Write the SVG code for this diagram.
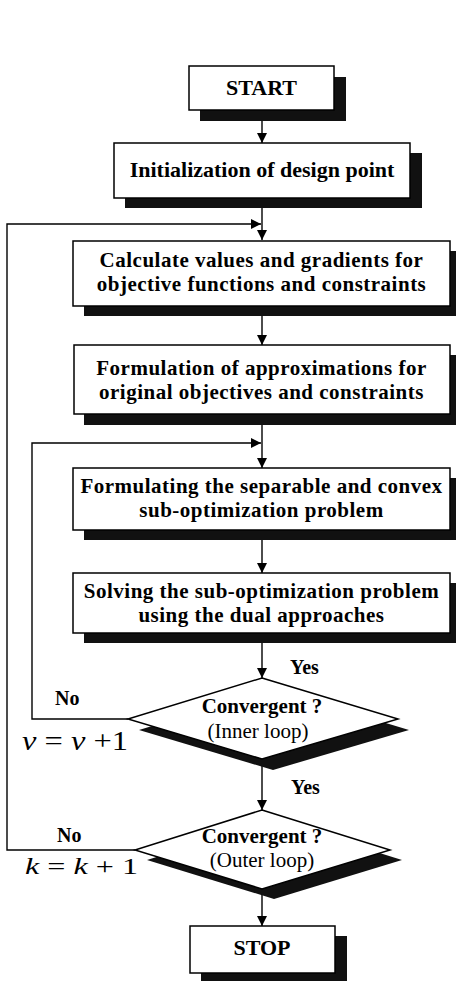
<svg xmlns="http://www.w3.org/2000/svg" width="456" height="981" viewBox="0 0 456 981">
<defs>
<style>
.box{fill:#fff;stroke:#000;stroke-width:1.5}
.sh{fill:#111}
.t{font-family:"Liberation Serif","Times New Roman",serif;font-weight:bold;font-size:22px;text-anchor:middle;fill:#000}
.t2{font-family:"Liberation Serif","Times New Roman",serif;font-weight:bold;font-size:21px;letter-spacing:0.5px;text-anchor:middle;fill:#000}
.r{font-family:"Liberation Serif","Times New Roman",serif;font-size:21px;text-anchor:middle;fill:#000}
.lb{font-family:"Liberation Serif","Times New Roman",serif;font-weight:bold;font-size:20px;fill:#000}
.m{font-family:"Liberation Serif","Times New Roman",serif;fill:#000}
.ln{fill:none;stroke:#000;stroke-width:1.4}
</style>
<marker id="ah" viewBox="0 0 10 10" refX="10" refY="5" markerWidth="10" markerHeight="10" markerUnits="userSpaceOnUse" orient="auto">
<path d="M0,0 L10,5 L0,10 Z" fill="#000"/>
</marker>
</defs>
<rect width="456" height="981" fill="#fff"/>

<g id="connectors">
<line class="ln" x1="262" y1="110" x2="262" y2="143" marker-end="url(#ah)"/>
<line class="ln" x1="262" y1="198" x2="262" y2="240" marker-end="url(#ah)"/>
<polyline class="ln" points="135,850 7,850 7,224 261,224" marker-end="url(#ah)"/>
<line class="ln" x1="262" y1="306" x2="262" y2="345" marker-end="url(#ah)"/>
<line class="ln" x1="262" y1="414" x2="262" y2="468" marker-end="url(#ah)"/>
<polyline class="ln" points="128,719 32,719 32,443 261,443" marker-end="url(#ah)"/>
<line class="ln" x1="262" y1="530" x2="262" y2="573" marker-end="url(#ah)"/>
<line class="ln" x1="262" y1="633" x2="262" y2="678" marker-end="url(#ah)"/>
<line class="ln" x1="262" y1="759" x2="262" y2="810" marker-end="url(#ah)"/>
<line class="ln" x1="262" y1="889" x2="262" y2="926" marker-end="url(#ah)"/>
</g>

<g id="start">
<rect class="sh" x="200" y="77" width="146" height="44"/>
<rect class="box" x="189" y="66" width="145" height="44"/>
<text class="t" x="261.5" y="95">START</text>
</g>

<g id="init">
<rect class="sh" x="125" y="153" width="297" height="55"/>
<rect class="box" x="114" y="143" width="296" height="55"/>
<text class="t" x="262" y="177">Initialization of design point</text>
</g>

<g id="calc">
<rect class="sh" x="84" y="251" width="377" height="65"/>
<rect class="box" x="73" y="241" width="377" height="65"/>
<text class="t2" x="261.5" y="267">Calculate  values and gradients for</text>
<text class="t2" x="261.5" y="291">objective functions and constraints</text>
</g>

<g id="approx">
<rect class="sh" x="84" y="355" width="377" height="70"/>
<rect class="box" x="74" y="345" width="376" height="69"/>
<text class="t2" x="261.5" y="375">Formulation of approximations for</text>
<text class="t2" x="261.5" y="399">original objectives and constraints</text>
</g>

<g id="subopt">
<rect class="sh" x="84" y="478" width="377" height="62"/>
<rect class="box" x="73" y="468" width="377" height="62"/>
<text class="t2" x="261.5" y="493">Formulating the separable and convex</text>
<text class="t2" x="261.5" y="517">sub-optimization problem</text>
</g>

<g id="solve">
<rect class="sh" x="84" y="583" width="377" height="60"/>
<rect class="box" x="73" y="573" width="377" height="60"/>
<text class="t2" x="261.5" y="598">Solving the sub-optimization problem</text>
<text class="t2" x="261.5" y="622">using the dual approaches</text>
</g>

<g id="inner">
<polygon class="sh" points="273,689 409,730 273,770 139,730"/>
<polygon class="box" points="262,678 398,719 262,759 128,719"/>
<text class="t" x="262" y="713" style="font-size:21px">Convergent ?</text>
<text class="r" x="258" y="738">(Inner loop)</text>
</g>

<g id="outer">
<polygon class="sh" points="274,820 402,860 274,899 147,860"/>
<polygon class="box" points="262,810 390,850 262,889 135,850"/>
<text class="t" x="262" y="843" style="font-size:21px">Convergent ?</text>
<text class="r" x="262" y="867">(Outer loop)</text>
</g>

<g id="stop">
<rect class="sh" x="201" y="936" width="146" height="47"/>
<rect class="box" x="190" y="926" width="145" height="47"/>
<text class="t" x="262" y="955">STOP</text>
</g>

<g id="labels">
<text class="lb" x="290" y="674">Yes</text>
<text class="lb" x="291" y="794">Yes</text>
<text class="lb" x="55" y="705">No</text>
<text class="lb" x="57" y="842">No</text>
<text class="m" x="22" y="750" font-size="27" textLength="106" lengthAdjust="spacingAndGlyphs"><tspan font-style="italic">v</tspan> = <tspan font-style="italic">v</tspan> +1</text>
<text class="m" x="25" y="874" font-size="24" textLength="113" lengthAdjust="spacingAndGlyphs"><tspan font-style="italic">k</tspan> = <tspan font-style="italic">k</tspan> + 1</text>
</g>
</svg>
